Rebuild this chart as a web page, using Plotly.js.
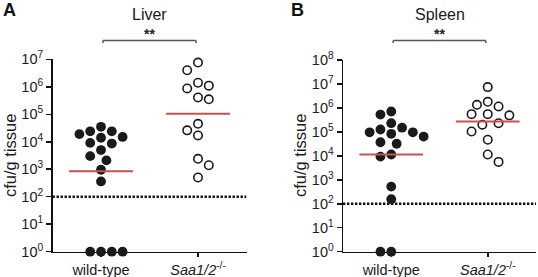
<!DOCTYPE html>
<html>
<head>
<meta charset="utf-8">
<script src="https://cdn.plot.ly/plotly-3.0.1.min.js"></script>
<style>html,body{margin:0;padding:0;background:#fff;}#chart{width:538px;height:277px;}</style>
</head>
<body>
<div id="chart"></div>
<script>
// ---- data (cfu/g tissue) ----
const categories = ['wild-type', '<i>Saa1/2</i><sup>-/-</sup>'];
const panelTitles = ['Liver', 'Spleen'];
const panelLetters = ['A', 'B'];
const liverWT = [3.5e4, 2.4e4, 2.4e4, 1.9e4, 1.5e4, 1.4e4, 9.1e3, 8.6e3, 5.0e3, 3.0e3, 2.1e3, 960, 360, 1, 1, 1, 1];
const liverKO = [7.6e6, 4.0e6, 1.4e6, 1.1e6, 8.7e5, 4.1e5, 3.5e5, 4.5e4, 2.6e4, 1.7e4, 2.4e3, 1.4e3, 500];
const spleenWT = [7.1e5, 5.3e5, 2.3e5, 1.5e5, 1.26e5, 9.6e4, 9.6e4, 8.3e4, 6.4e4, 3.7e4, 3.2e4, 1.14e4, 9.3e3, 520, 155, 1, 1];
const spleenKO = [7.4e6, 1.8e6, 1.35e6, 1.15e6, 5.5e5, 5.5e5, 4.9e5, 2.3e5, 2.0e5, 1.04e5, 4.7e4, 1.14e4, 5.6e3];
const detectionLimit = 100;
const liverExponents = [0, 1, 2, 3, 4, 5, 6, 7];
const spleenExponents = [0, 1, 2, 3, 4, 5, 6, 7, 8];
const significance = ['**', '**'];
const yLabel = 'cfu/g tissue';

// ---- layout geometry ----
const W = 538, H = 277;
const xr = [-0.5, 1.5];
const domA = {x: [52.5 / W, 246.5 / W], y: [(H - 251.7) / H, (H - 59.3) / H]};
const domB = {x: [343 / W, 536 / W], y: [(H - 251.7) / H, (H - 60) / H]};
const font = '"Liberation Sans", Arial, Helvetica, sans-serif';
const red = '#c8504f';

function swarm(values, pxPerDecade, pxPerUnit) {
  const d = 10.6, step = 5.4;
  const order = values.map((v, i) => i).sort((a, b) => values[b] - values[a]);
  const placed = [];
  const off = new Array(values.length);
  let sum = 0;
  order.forEach(i => {
    const y = Math.log10(values[i]) * pxPerDecade;
    for (let k = 0; k < 60; k++) {
      let cands = k === 0 ? [0] : (sum > 0 ? [-k * step, k * step] : (sum < 0 ? [k * step, -k * step] : [-k * step, k * step]));
      const c = cands.find(cx => placed.every(p => Math.hypot(p.x - cx, p.y - y) >= d));
      if (c !== undefined) { placed.push({x: c, y}); off[i] = c / pxPerUnit; sum += c; break; }
    }
  });
  return off;
}

function geoMean(arr) {
  return Math.pow(10, arr.reduce((s, v) => s + Math.log10(v), 0) / arr.length);
}

const traces = [];
const panels = [
  {wt: liverWT, ko: liverKO, dom: domA, exps: liverExponents, xa: 'x', ya: 'y'},
  {wt: spleenWT, ko: spleenKO, dom: domB, exps: spleenExponents, xa: 'x2', ya: 'y2'}
];

panels.forEach(p => {
  const pxW = (p.dom.x[1] - p.dom.x[0]) * W;
  const pxH = (p.dom.y[1] - p.dom.y[0]) * H;
  const pxPerUnit = pxW / (xr[1] - xr[0]);
  const pxPerDecade = pxH / (p.exps[p.exps.length - 1] - p.exps[0]);
  // detection limit
  traces.push({x: xr, y: [detectionLimit, detectionLimit], xaxis: p.xa, yaxis: p.ya, mode: 'lines',
    line: {color: '#111', width: 2.4, dash: '2.4px,1.6px'}, hoverinfo: 'skip', showlegend: false});
  [p.wt, p.ko].forEach((vals, ci) => {
    const off = swarm(vals, pxPerDecade, pxPerUnit);
    traces.push({x: off.map(o => ci + o), y: vals, xaxis: p.xa, yaxis: p.ya, mode: 'markers', cliponaxis: false,
      marker: ci === 0 ? {size: 9.8, color: '#1a1a1a', line: {width: 0}} : {size: 8.4, color: '#fff', line: {width: 1.6, color: '#1a1a1a'}},
      showlegend: false});
    const gm = geoMean(vals);
    traces.push({x: [ci - 0.33, ci + 0.33], y: [gm, gm], xaxis: p.xa, yaxis: p.ya, mode: 'lines',
      line: {color: red, width: 2}, hoverinfo: 'skip', showlegend: false});
  });
});

function yaxis(p, anchor) {
  return {type: 'log', domain: p.dom.y, anchor: anchor, range: [p.exps[0], p.exps[p.exps.length - 1]],
    tickmode: 'array', tickvals: p.exps.map(e => Math.pow(10, e)), ticktext: p.exps.map(e => '10<sup>' + e + '</sup>'),
    ticks: 'outside', ticklen: 5, tickwidth: 1.5, tickcolor: '#111', showline: true, linewidth: 1.5, linecolor: '#111',
    showgrid: false, zeroline: false, tickfont: {family: font, size: 14.5, color: '#1a1a1a'}, layer: 'below traces', fixedrange: true};
}
function xaxis(p, anchor) {
  return {domain: p.dom.x, anchor: anchor, range: xr, tickmode: 'array', tickvals: [0, 1], ticktext: categories,
    ticks: 'outside', ticklen: 4, tickwidth: 1.5, tickcolor: '#111', showline: true, linewidth: 1.5, linecolor: '#111',
    showgrid: false, zeroline: false, tickfont: {family: font, size: 14.5, color: '#1a1a1a'}, layer: 'below traces', fixedrange: true};
}

const ann = [], shapes = [];
const yTitleX = [10, 300];
panels.forEach((p, i) => {
  const xa = p.xa;
  ann.push({text: panelTitles[i], xref: xa, yref: 'paper', x: 0.5, y: 1 - 15 / H, xanchor: 'center', yanchor: 'middle',
    showarrow: false, font: {family: font, size: 16, color: '#1a1a1a'}});
  ann.push({text: '<b>' + significance[i] + '</b>', xref: xa, yref: 'paper', x: 0.5, y: 1 - 34 / H, xanchor: 'center', yanchor: 'middle',
    showarrow: false, font: {family: font, size: 14, color: '#222'}});
  ann.push({text: yLabel, xref: 'paper', yref: 'paper', x: yTitleX[i] / W, y: 1 - 156 / H, xanchor: 'center', yanchor: 'middle',
    textangle: -90, showarrow: false, font: {family: font, size: 16.5, color: '#1a1a1a'}});
  const yb = 1 - 40.5 / H, yt = 1 - 43 / H;
  shapes.push({type: 'line', xref: xa, yref: 'paper', x0: 0.02, x1: 0.98, y0: yb, y1: yb, line: {color: '#555', width: 1.5}});
  shapes.push({type: 'line', xref: xa, yref: 'paper', x0: 0.02, x1: 0.02, y0: yb, y1: yt, line: {color: '#555', width: 1.5}});
  shapes.push({type: 'line', xref: xa, yref: 'paper', x0: 0.98, x1: 0.98, y0: yb, y1: yt, line: {color: '#555', width: 1.5}});
});
ann.push({text: '<b>' + panelLetters[0] + '</b>', xref: 'paper', yref: 'paper', x: 1 / W, y: 1 - 10 / H, xanchor: 'left', yanchor: 'middle',
  showarrow: false, font: {family: font, size: 18, color: '#111'}});
ann.push({text: '<b>' + panelLetters[1] + '</b>', xref: 'paper', yref: 'paper', x: 289 / W, y: 1 - 10 / H, xanchor: 'left', yanchor: 'middle',
  showarrow: false, font: {family: font, size: 18, color: '#111'}});

const layout = {
  width: W, height: H, margin: {l: 0, r: 0, t: 0, b: 0}, paper_bgcolor: '#fff', plot_bgcolor: '#fff',
  showlegend: false, font: {family: font},
  xaxis: xaxis(panels[0], 'y'), yaxis: yaxis(panels[0], 'x'),
  xaxis2: xaxis(panels[1], 'y2'), yaxis2: yaxis(panels[1], 'x2'),
  annotations: ann, shapes: shapes
};
Plotly.newPlot('chart', traces, layout, {displayModeBar: false, staticPlot: true});
</script>
</body>
</html>
